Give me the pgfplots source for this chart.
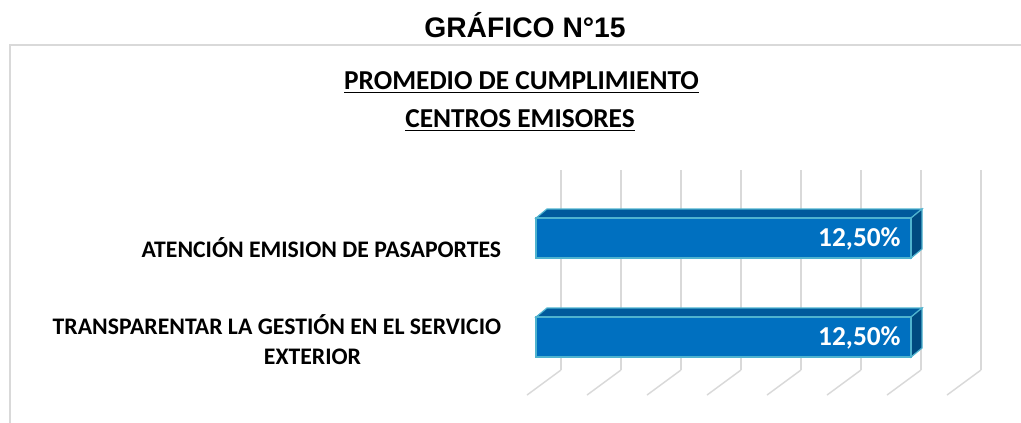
\documentclass[border=0pt]{standalone}
\usepackage{pgfplots}
\pgfplotsset{compat=1.18}
\usepackage{fontspec}
\setmainfont{Carlito}
\newfontfamily\arialfont{Liberation Sans}
\definecolor{frontcol}{HTML}{0070C0}
\definecolor{topcol}{HTML}{005A9C}
\definecolor{sidecol}{HTML}{004A80}
\definecolor{edgecol}{HTML}{4FB3CF}
\definecolor{gridcol}{HTML}{D9D9D9}
\definecolor{framecol}{HTML}{D9D9D9}
\begin{document}
\begin{tikzpicture}
\useasboundingbox (0,0) rectangle (765.75pt,316.5pt);
\draw[framecol, line width=1.1pt] (7.5pt,-2pt) -- (7.5pt,282.75pt) -- (770pt,282.75pt);
\node[anchor=base, inner sep=0pt, font=\arialfont\bfseries\fontsize{21.2}{25}\selectfont] at (393.75pt,288pt) {GRÁFICO N°15};
\node[anchor=base, inner sep=0pt, font=\bfseries\fontsize{20.5}{24}\selectfont] at (391.1pt,249pt) {\underline{PROMEDIO DE CUMPLIMIENTO}};
\node[anchor=base, inner sep=0pt, font=\bfseries\fontsize{20.5}{24}\selectfont] at (390pt,220.5pt) {\underline{CENTROS EMISORES}};
\begin{axis}[
  at={(402pt,39pt)}, anchor=south west,
  scale only axis, width=333.75pt, height=150pt,
  xmin=0, xmax=14.833, ymin=-0.333, ymax=1.687,
  clip=false,
  axis line style={draw=none},
  tick style={draw=none},
  xtick={0.833,2.833,...,14.833},
  xticklabels={},
  xmajorgrids,
  grid style={gridcol, line width=1.1pt},
  ytick={-0.025,0.905},
  yticklabels={{TRANSPARENTAR LA GESTIÓN EN EL SERVICIO\\\mbox{EXTERIOR\hspace{105pt}}},{ATENCIÓN EMISION DE PASAPORTES}},
  yticklabel style={align=right, font=\bfseries\fontsize{17.8}{23}\selectfont, anchor=east, inner sep=0pt, xshift=-26pt},
  bar width=30pt,
]
% floor lines
\draw[gridcol, line width=1.1pt] (axis cs:0.833,-0.333) -- (axis cs:-0.3,-0.586);
\draw[gridcol, line width=1.1pt] (axis cs:2.833,-0.333) -- (axis cs:1.7,-0.586);
\draw[gridcol, line width=1.1pt] (axis cs:4.833,-0.333) -- (axis cs:3.7,-0.586);
\draw[gridcol, line width=1.1pt] (axis cs:6.833,-0.333) -- (axis cs:5.7,-0.586);
\draw[gridcol, line width=1.1pt] (axis cs:8.833,-0.333) -- (axis cs:7.7,-0.586);
\draw[gridcol, line width=1.1pt] (axis cs:10.833,-0.333) -- (axis cs:9.7,-0.586);
\draw[gridcol, line width=1.1pt] (axis cs:12.833,-0.333) -- (axis cs:11.7,-0.586);
\draw[gridcol, line width=1.1pt] (axis cs:14.833,-0.333) -- (axis cs:13.7,-0.586);
% 3D faces
\addplot[fill=topcol, draw=edgecol, line width=0.9pt] coordinates {(0,1.202) (12.5,1.202) (12.867,1.293) (0.367,1.293)} -- cycle;
\addplot[fill=sidecol, draw=edgecol, line width=0.9pt] coordinates {(12.5,1.202) (12.867,1.293) (12.867,0.889) (12.5,0.798)} -- cycle;
\addplot[fill=topcol, draw=edgecol, line width=0.9pt] coordinates {(0,0.202) (12.5,0.202) (12.867,0.293) (0.367,0.293)} -- cycle;
\addplot[fill=sidecol, draw=edgecol, line width=0.9pt] coordinates {(12.5,0.202) (12.867,0.293) (12.867,-0.111) (12.5,-0.202)} -- cycle;
% front faces
\addplot[xbar, fill=frontcol, draw=edgecol, line width=0.9pt,
  point meta=explicit symbolic,
  nodes near coords,
  every node near coord/.append style={anchor=east, xshift=-4pt, yshift=-1pt, text=white, font=\bfseries\fontsize{20.5}{22}\selectfont}]
  coordinates {(12.5,0) [{12,50\%}] (12.5,1) [{12,50\%}]};
\end{axis}
\end{tikzpicture}
\end{document}
